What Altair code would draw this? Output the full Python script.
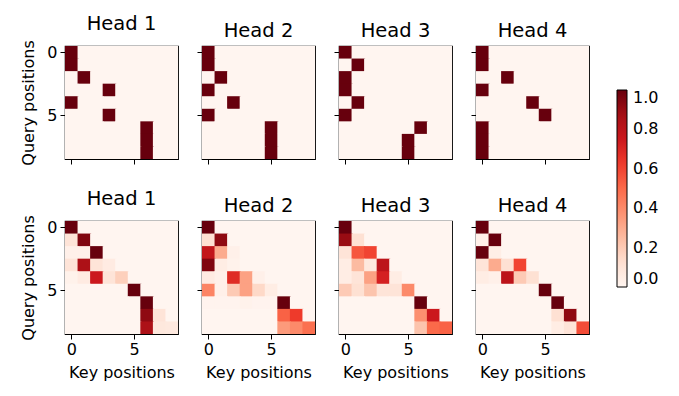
import altair as alt
import pandas as pd

# Top row: one-hot attention (column index of the 1.0 cell per query row)
top_head1 = [0, 0, 1, 3, 0, 3, 6, 6, 6]
top_head2 = [0, 0, 1, 0, 2, 0, 5, 5, 5]
top_head3 = [0, 1, 0, 0, 1, 0, 6, 5, 5]
top_head4 = [0, 0, 2, 0, 4, 5, 0, 0, 0]

# Bottom row: soft attention weights (rows = query, cols = key)
bot_head1 = [
    [1.00, 0, 0, 0, 0, 0, 0, 0, 0],
    [0.10, 0.95, 0, 0, 0, 0, 0, 0, 0],
    [0.03, 0.03, 1.00, 0, 0, 0, 0, 0, 0],
    [0.10, 0.85, 0.10, 0.06, 0, 0, 0, 0, 0],
    [0.02, 0.06, 0.75, 0.10, 0.18, 0, 0, 0, 0],
    [0, 0, 0, 0, 0, 1.00, 0, 0, 0],
    [0, 0, 0, 0, 0, 0, 1.00, 0, 0],
    [0, 0, 0, 0, 0, 0, 0.92, 0.10, 0],
    [0, 0, 0, 0, 0, 0, 0.85, 0.08, 0.07],
]
bot_head2 = [
    [1.00, 0, 0, 0, 0, 0, 0, 0, 0],
    [0.12, 0.92, 0, 0, 0, 0, 0, 0, 0],
    [0.78, 0.30, 0.03, 0, 0, 0, 0, 0, 0],
    [0.95, 0.05, 0.02, 0, 0, 0, 0, 0, 0],
    [0.06, 0.03, 0.68, 0.33, 0.03, 0, 0, 0, 0],
    [0.42, 0.03, 0.20, 0.33, 0.15, 0.05, 0, 0, 0],
    [0.01, 0.01, 0.01, 0.02, 0.01, 0.01, 1.00, 0, 0],
    [0, 0, 0, 0, 0, 0, 0.52, 0.63, 0],
    [0, 0, 0, 0, 0, 0, 0.35, 0.40, 0.48],
]
bot_head3 = [
    [1.00, 0, 0, 0, 0, 0, 0, 0, 0],
    [0.90, 0.12, 0, 0, 0, 0, 0, 0, 0],
    [0.10, 0.55, 0.60, 0, 0, 0, 0, 0, 0],
    [0.05, 0.25, 0.08, 0.80, 0, 0, 0, 0, 0],
    [0.05, 0.10, 0.33, 0.72, 0.05, 0, 0, 0, 0],
    [0.20, 0.12, 0.22, 0.10, 0.10, 0.40, 0, 0, 0],
    [0, 0, 0, 0, 0, 0, 1.00, 0, 0],
    [0, 0, 0, 0, 0, 0, 0.38, 0.75, 0],
    [0, 0, 0, 0, 0, 0, 0.22, 0.50, 0.52],
]
bot_head4 = [
    [1.00, 0, 0, 0, 0, 0, 0, 0, 0],
    [0.03, 1.00, 0, 0, 0, 0, 0, 0, 0],
    [1.00, 0.04, 0, 0, 0, 0, 0, 0, 0],
    [0.10, 0.30, 0.12, 0.60, 0, 0, 0, 0, 0],
    [0.05, 0.03, 0.80, 0.20, 0.12, 0, 0, 0, 0],
    [0, 0, 0, 0, 0, 1.00, 0, 0, 0],
    [0, 0, 0, 0, 0, 0, 1.00, 0, 0],
    [0, 0, 0, 0, 0, 0, 0.12, 0.92, 0],
    [0, 0, 0, 0, 0, 0, 0.05, 0.10, 0.58],
]

head_titles = ["Head 1", "Head 2", "Head 3", "Head 4"]
tick_values = [0, 5]
legend_values = [0.0, 0.2, 0.4, 0.6, 0.8, 1.0]

# matplotlib "Reds" colormap stops
reds_domain = [0, 0.125, 0.25, 0.375, 0.5, 0.625, 0.75, 0.875, 1.0]
reds_range = ["#fff5f0", "#fee0d2", "#fcbba1", "#fc9272", "#fb6a4a",
              "#ef3b2c", "#cb181d", "#a50f15", "#67000d"]


def onehot_to_df(cols):
    rows = []
    for q, c in enumerate(cols):
        for k in range(9):
            rows.append({"q": q, "k": k, "v": 1.0 if k == c else 0.0})
    return pd.DataFrame(rows)


def matrix_to_df(m):
    rows = []
    for q, r in enumerate(m):
        for k, v in enumerate(r):
            rows.append({"q": q, "k": k, "v": v})
    return pd.DataFrame(rows)


color = alt.Color(
    "v:Q",
    scale=alt.Scale(domain=reds_domain, range=reds_range, interpolate="rgb"),
    legend=alt.Legend(
        type="gradient",
        title="",
        orient="none",
        legendX=552,
        legendY=44,
        gradientLength=197,
        gradientThickness=10,
        gradientStrokeColor="black",
        gradientStrokeWidth=1,
        values=legend_values,
        format=".1f",
        labelFontSize=16,
        labelColor="black",
        labelFont="DejaVu Sans",
        labelOffset=6,
        labelBaseline="middle",
        labelOverlap=False,
    ),
)


def panel(df, title, first_col, bottom_row):
    return (
        alt.Chart(df)
        .transform_calculate(
            k0="datum.k - 0.5", k1="datum.k + 0.58",
            q0="datum.q - 0.5", q1="datum.q + 0.58",
        )
        .mark_rect(clip=True)
        .encode(
            x=alt.X(
                "k0:Q",
                scale=alt.Scale(domain=[-0.5, 8.5], nice=False, zero=False),
                axis=alt.Axis(
                    values=tick_values,
                    format="d",
                    labelAngle=0,
                    labels=bottom_row,
                    title="Key positions" if bottom_row else "",
                    titlePadding=7,
                    labelPadding=2,
                ),
            ),
            x2="k1:Q",
            y=alt.Y(
                "q0:Q",
                scale=alt.Scale(domain=[8.5, -0.5], nice=False, zero=False),
                axis=alt.Axis(
                    values=tick_values,
                    format="d",
                    labels=first_col,
                    title="Query positions" if first_col else "",
                    titlePadding=10,
                ),
            ),
            y2="q1:Q",
            color=color,
        )
        .properties(
            width=113,
            height=113,
            title=alt.TitleParams(title, fontSize=19.5, font="DejaVu Sans",
                                  fontWeight="normal", offset=5, color="black"),
        )
    )


top_dfs = [onehot_to_df(c) for c in [top_head1, top_head2, top_head3, top_head4]]
bot_dfs = [matrix_to_df(m) for m in [bot_head1, bot_head2, bot_head3, bot_head4]]

top_row = alt.hconcat(
    *[panel(d, t, i == 0, False) for i, (d, t) in enumerate(zip(top_dfs, head_titles))],
    spacing=16,
)
bot_row = alt.hconcat(
    *[panel(d, t, i == 0, True) for i, (d, t) in enumerate(zip(bot_dfs, head_titles))],
    spacing=16,
)

chart = (
    alt.vconcat(top_row, bot_row, spacing=22, background="white",
                padding={"left": 12, "top": 5, "right": 5, "bottom": 5})
    .configure_view(stroke="black", strokeWidth=1.2)
    .configure_axis(
        domain=False,
        tickColor="black",
        tickSize=5,
        labelFont="DejaVu Sans",
        labelFontSize=16,
        labelColor="black",
        titleFont="DejaVu Sans",
        titleFontSize=16,
        titleFontWeight="normal",
        titleColor="black",
        labelPadding=3,
        grid=False,
    )
)

chart.save("out.html", embed_options={"renderer": "svg", "actions": False})
